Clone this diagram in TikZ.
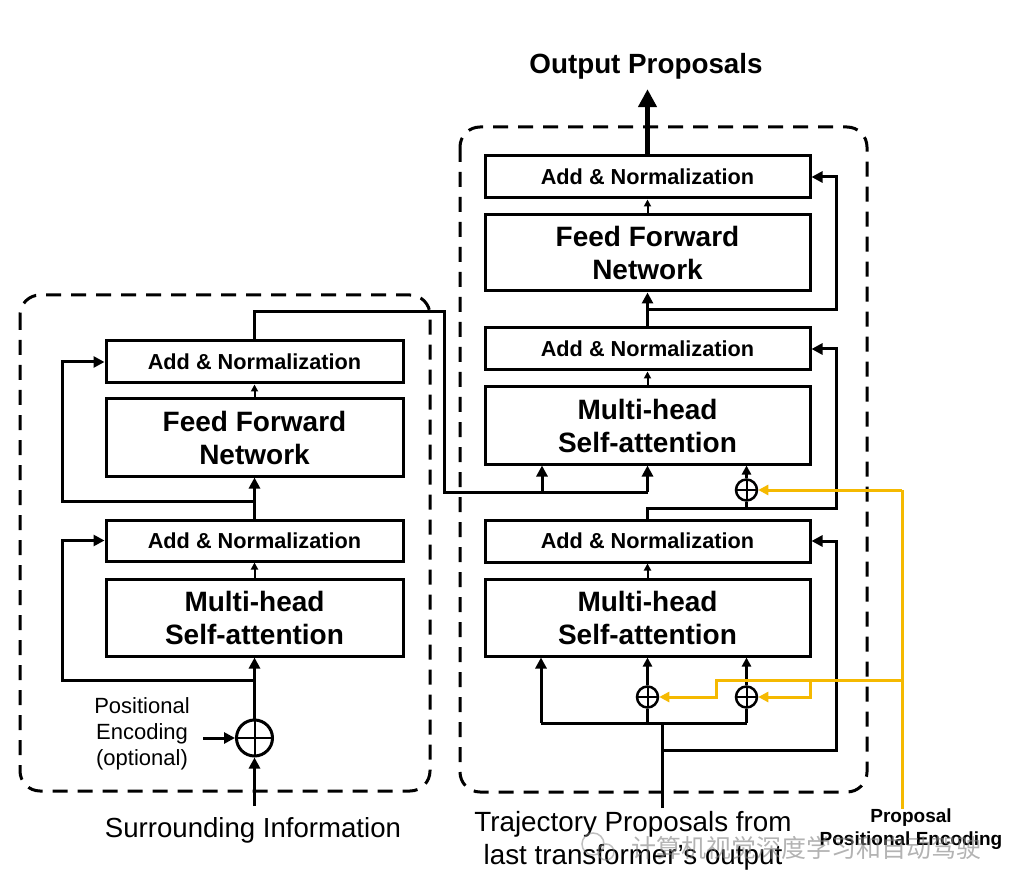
\documentclass[tikz,border=0pt]{standalone}
\usepackage{fontspec}
\setmainfont{Liberation Sans}
\newfontfamily\cjkfont{Noto Sans CJK SC}
\usetikzlibrary{arrows.meta,calc}
\definecolor{pegold}{RGB}{245,185,0}
\begin{document}
\begin{tikzpicture}[x=1pt,y=-1pt,
  blk/.style={draw,line width=3pt,inner sep=0pt,align=center,font=\bfseries\fontsize{28}{33}\selectfont},
  anbox/.style={blk,font=\bfseries\fontsize{21.7}{24}\selectfont},
  arr/.style={line width=3pt,-{Triangle[length=11pt,width=11pt]}},
  arrm/.style={line width=2.5pt,-{Triangle[length=9pt,width=9pt]}},
  arrs/.style={line width=2pt,-{Triangle[length=7pt,width=7pt]}},
  ln/.style={line width=3pt},
  bigarr/.style={line width=5pt,-{Triangle[length=18pt,width=18pt]}},
  yl/.style={line width=3pt,draw=pegold},
  yarr/.style={yl,-{Triangle[length=10pt,width=10pt]}},
  dbox/.style={line width=3pt,dash pattern=on 15pt off 10pt,rounded corners=20pt},
  oplus/.style={circle,draw,inner sep=0pt,line width=2.5pt,minimum size=#1,
    path picture={\draw[line width=2pt] (path picture bounding box.north) -- (path picture bounding box.south)
      (path picture bounding box.west) -- (path picture bounding box.east);}},
  lbl/.style={align=center,inner sep=0pt}
]
\useasboundingbox (0,0) rectangle (1020,890);

% dashed frames
\draw[dbox] (20,295) rectangle (430,791);
\draw[dbox] (460,127) rectangle (867,792);

% ---------- left (encoder) ----------
\node[anbox,minimum width=297,minimum height=42] (lan2) at (254.5,362) {Add \& Normalization};
\node[blk,minimum width=297,minimum height=77] (lffn) at (254.5,437.5) {Feed Forward\\Network};
\node[anbox,minimum width=297,minimum height=41] (lan1) at (254.5,540.5) {Add \& Normalization};
\node[blk,minimum width=297,minimum height=77] (lmh) at (254.5,617.5) {Multi-head\\Self-attention};
\node[oplus=36pt,line width=3pt] (lplus) at (254.5,738) {};

\node[lbl,font=\fontsize{22}{26}\selectfont] (pe) at (142,734) {Positional\\Encoding\\(optional)};
\node[lbl,font=\fontsize{27.6}{33}\selectfont] (sur) at (253,830) {Surrounding Information};

\coordinate (lin) at (254.5,806);
\coordinate (pes) at (203,738);
\coordinate (lj1) at (254.5,680);
\coordinate (lj2) at (254.5,501);

\draw[arr] (lin) -- (lplus.south);
\draw[arr] (pes) -- (lplus.west);
\draw[arr] (lplus.north) -- (lmh.south);
\draw[arr] (lj1) -- ++(-192,0) |- (lan1.west);
\draw[arrs] (lmh.north) -- (lan1.south);
\draw[arr] (lan1.north) -- (lffn.south);
\draw[arr] (lj2) -- ++(-192,0) |- (lan2.west);
\draw[arrs] (lffn.north) -- (lan2.south);

% ---------- right (decoder) ----------
\node[anbox,minimum width=325,minimum height=42] (ran3) at (647.5,177) {Add \& Normalization};
\node[blk,minimum width=325,minimum height=76] (rffn) at (647.5,253) {Feed Forward\\Network};
\node[anbox,minimum width=325,minimum height=42] (ran2) at (647.5,349) {Add \& Normalization};
\node[blk,minimum width=325,minimum height=77] (rmh2) at (647.5,425.5) {Multi-head\\Self-attention};
\node[anbox,minimum width=325,minimum height=42] (ran1) at (647.5,541) {Add \& Normalization};
\node[blk,minimum width=325,minimum height=77] (rmh1) at (647.5,617.5) {Multi-head\\Self-attention};

\node[oplus=21pt] (rplus3) at (746.5,490) {};
\node[oplus=21pt] (rplus1) at (647.5,697) {};
\node[oplus=21pt] (rplus2) at (746.5,697) {};

\node[lbl,font=\bfseries\fontsize{27.8}{30}\selectfont,inner sep=10pt] (out) at (646,66) {Output Proposals};
\node[lbl,font=\fontsize{27.8}{33}\selectfont] (traj) at (633,841) {Trajectory Proposals from\\last transformer's output};
\node[lbl,font=\bfseries\fontsize{19}{23}\selectfont,anchor=north] (ppe) at (911,809) {Proposal\\Positional Encoding};

\coordinate (rin) at (662,808);
\coordinate (rj6) at (541,723);
\coordinate (rj8) at (662,750);
\coordinate (rj5) at (647.5,508);
\coordinate (rj4) at (647.5,310);
\coordinate (ej) at (542,492);
\coordinate (ek) at (647.5,492);
\coordinate (ytop) at (902,490);
\coordinate (yj) at (902,680);
\coordinate (yk) at (810,680);

% output
\draw[bigarr] (ran3.north) -- (ran3.north |- out.south);
\draw[arrs] (rffn.north) -- (ran3.south);
\draw[arr] (ran2.north) -- (rffn.south);
\draw[arr] (rj4) -- ++(189,0) |- (ran3.east);
\draw[arrs] (rmh2.north) -- (ran2.south);

% residual from lower block
\draw[arr] (ran1.north) -- (rj5) -- ++(189,0) |- (ran2.east);
\draw[ln] (rplus3.south) -- (rplus3.south |- rj5);
\draw[arrm] (rplus3.north) -- (rplus3.north |- rmh2.south);

% encoder memory to upper attention
\draw[ln] (lan2.north) -- ++(0,-28) -| ($(ej)+(-98,0)$) -- (ek);
\draw[arr] (ej) -- (ej |- rmh2.south);
\draw[arr] (ek) -- (rmh2.south);

% lower block
\draw[arrs] (rmh1.north) -- (ran1.south);
\draw[ln] (rin) -- (rin |- rj6);
\draw[ln] (rj6) -- (rj6 -| rplus2);
\draw[arr] (rj6) -- (rj6 |- rmh1.south);
\draw[ln] (rplus1.south) -- (rplus1.south |- rj6);
\draw[ln] (rplus2.south) -- (rplus2.south |- rj6);
\draw[arrm] (rplus1.north) -- (rplus1.north |- rmh1.south);
\draw[arrm] (rplus2.north) -- (rplus2.north |- rmh1.south);
\draw[arr] (rj8) -- ++(174,0) |- (ran1.east);

% proposal positional encoding (yellow)
\draw[yl] (ytop) -- (ytop |- ppe.north);
\draw[yarr] (ytop) -- (rplus3.east);
\draw[yarr] (yj) -- ++(-186,0) |- (rplus1.east);
\draw[yarr] (yk) |- (rplus2.east);

% watermark
\node[lbl,text=gray,opacity=0.6,font=\cjkfont\fontsize{25}{25}\selectfont] (wm) at (806,848) {计算机视觉深度学习和自动驾驶};
\draw[gray,opacity=0.5,line width=1.5pt] (593,844) circle (11) (606,852) circle (8);
\end{tikzpicture}
\end{document}
